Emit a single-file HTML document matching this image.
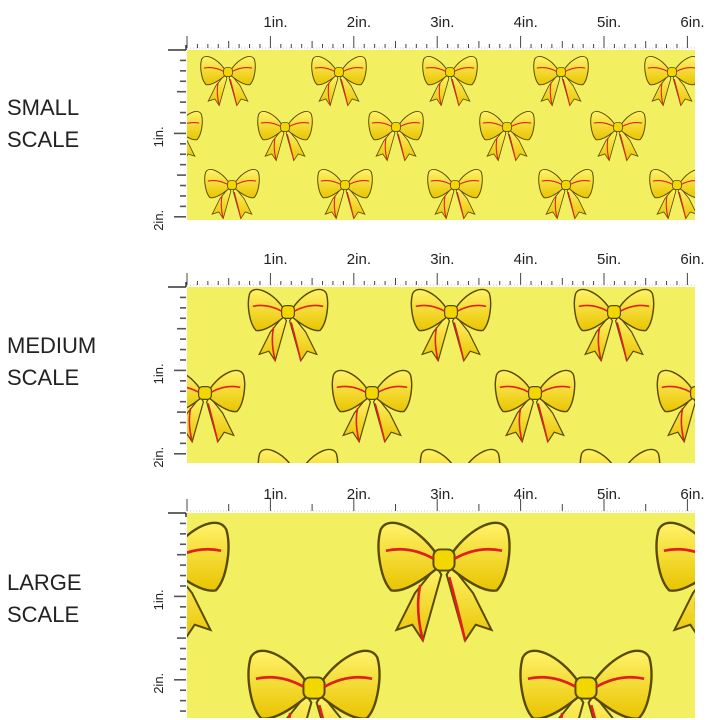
<!DOCTYPE html>
<html><head><style>
html,body{margin:0;padding:0;background:#fff;width:720px;height:720px;overflow:hidden;}
svg{display:block}
text{font-family:"Liberation Sans",sans-serif;fill:#222}
</style></head><body>
<svg id="s" width="720" height="720" viewBox="0 0 720 720" xmlns="http://www.w3.org/2000/svg">
<defs>
<linearGradient id="g" x1="0" y1="0" x2="0" y2="1"><stop offset="0" stop-color="#fff36a"/><stop offset="1" stop-color="#e9c400"/></linearGradient>
<g id="bow">
 <path d="M44 40 L28 60 L14 88 L26 84 L34 96 L48 46 Z" fill="url(#g)" stroke="#5a4a00" stroke-width="1.5"/>
 <path d="M56 40 L72 60 L86 88 L74 84 L66 96 L52 46 Z" fill="url(#g)" stroke="#5a4a00" stroke-width="1.5"/>
 <path d="M44 30 C30 10 8 0 2 12 C-2 26 2 50 10 58 C20 60 34 50 44 42 Z" fill="url(#g)" stroke="#5a4a00" stroke-width="1.8"/>
 <path d="M56 30 C70 10 92 0 98 12 C102 26 98 50 90 58 C80 60 66 50 56 42 Z" fill="url(#g)" stroke="#5a4a00" stroke-width="1.8"/>
 <rect x="42" y="27" width="16" height="16" rx="5" fill="#f2d800" stroke="#5a4a00" stroke-width="1.5"/>
 <path d="M6 28 Q24 24 42 34 M66 96 Q60 70 54 48 M94 28 Q76 24 58 34 M34 96 Q28 72 32 54" fill="none" stroke="#e02020" stroke-width="2"/>
</g>
</defs>
<g id="content"></g>
</svg>
<script>
var NS="http://www.w3.org/2000/svg",c=document.getElementById('content');
function el(t,a,p){var e=document.createElementNS(NS,t);for(var k in a)e.setAttribute(k,a[k]);(p||c).appendChild(e);return e;}
function txt(x,y,s,size,tr){var t=el('text',{x:x,y:y,'font-size':size});if(tr)t.setAttribute('transform',tr);t.textContent=s;}
var panels=[
 {y:50,h:170,ry:33,label:['SMALL','SCALE'],ly:[115,147],fine:true,s:0.55,bows:[[228,72],[339,72],[450,72],[561,72],[672,72],[175,127],[285,127],[396,127],[507,127],[618,127],[729,127],[232,185],[345,185],[455,185],[566,185],[677,185]]},
 {y:287,h:176,ry:270,label:['MEDIUM','SCALE'],ly:[353,385],fine:true,s:0.8,bows:[[288,312],[451,312],[614,312],[205,393],[372,393],[535,393],[697,393],[298,472],[460,472],[620,472]]},
 {y:513,h:205,ry:505,label:['LARGE','SCALE'],ly:[590,622],fine:false,s:1.32,bows:[[163,560],[444,560],[722,560],[314,688],[586,688]]}
];
panels.forEach(function(p,i){
 txt(7,p.ly[0],p.label[0],22);txt(7,p.ly[1],p.label[1],22);
 el('rect',{x:187,y:p.y,width:508,height:p.h,fill:'#f2f060'});
 var cp=el('clipPath',{id:'c'+i});el('rect',{x:187,y:p.y,width:508,height:p.h},cp);
 var g=el('g',{'clip-path':'url(#c'+i+')'});
 p.bows.forEach(function(b){el('use',{href:'#bow',transform:'translate('+(b[0]-50*p.s)+','+(b[1]-35*p.s)+') scale('+p.s+')'},g);});
 var x0=187,inch=83.4,by=p.y-2;
 el('line',{x1:x0-1,y1:p.ry+12,x2:x0-1,y2:p.y,stroke:'#333','stroke-width':1.5});
 for(var k=0;k<=6*8;k++){var x=x0+k*inch/8;if(x>696)break;var L=k%8==0?12:k%4==0?7:(p.fine?4:0);if(!L)continue;
  el('line',{x1:x,y1:by,x2:x,y2:by-L,stroke:'#444','stroke-width':1});}
 el('line',{x1:x0,y1:by,x2:695,y2:by,stroke:'#999','stroke-width':0.6,'stroke-dasharray':'1 2'});
 for(var n=1;n<=6;n++)txt(x0+n*inch-7,p.ry-6,n+'in.',15);
 el('line',{x1:168,y1:p.y,x2:186,y2:p.y,stroke:'#333','stroke-width':1.5});
 for(var k=1;k*inch/8<p.h;k++){var y=p.y+k*inch/8;var L=k%8==0?12:k%4==0?9:6;
  el('line',{x1:186-L,y1:y,x2:186,y2:y,stroke:'#555','stroke-width':1.6});}
 txt(0,0,'1in.',13,'translate('+163+','+(p.y+inch+14)+') rotate(-90)');
 if(p.h>2*inch-20)txt(0,0,'2in.',13,'translate('+163+','+(p.y+2*inch+14)+') rotate(-90)');
});
</script>
</body></html>
